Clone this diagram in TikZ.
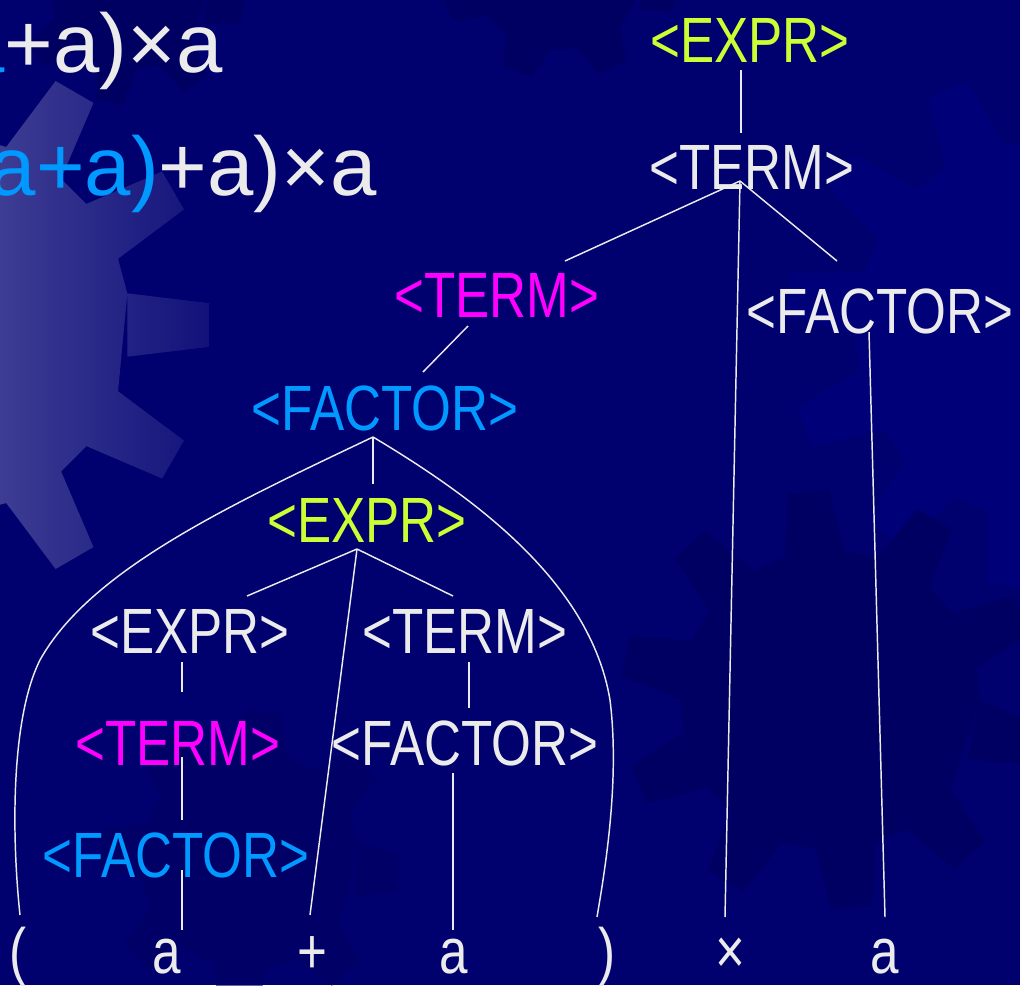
\documentclass[tikz,border=0pt]{standalone}
\usepackage{fontspec}
\setmainfont{Liberation Sans}
\newfontfamily\narrowfont[FakeStretch=0.8]{Liberation Sans}
\definecolor{bgnavy}{HTML}{00006E}
\definecolor{gdark}{HTML}{000063}
\definecolor{glight}{HTML}{000078}
\definecolor{gearL}{HTML}{3E3E94}
\definecolor{gearR}{HTML}{10107A}
\definecolor{tyellow}{HTML}{CCFF33}
\definecolor{tmagenta}{HTML}{FF00FF}
\definecolor{tblue}{HTML}{0099FF}
\definecolor{twhite}{HTML}{EBEBEB}
\newcommand\gearpath[7]{%
  \path[#7,shift={(#1,#2)}] ({#6-0.32*360/#5}:#3)
    \foreach \i [evaluate=\i as \a using #6+\i*360/#5] in {1,...,#5}
      { -- ({\a-0.32*360/#5}:#3) -- ({\a-0.155*360/#5}:#4) -- ({\a+0.155*360/#5}:#4) -- ({\a+0.32*360/#5}:#3) } -- cycle;}
\tikzset{
  sym/.style={anchor=base,inner sep=0pt,font=\narrowfont\fontsize{48}{48}\selectfont},
  leaf/.style={sym,text=twhite},
  conn/.style={draw=twhite,line width=1.1pt},
  bigtext/.style={anchor=base east,inner sep=0pt,text=twhite,font=\fontsize{62.5}{62.5}\selectfont}
}
\begin{document}
\begin{tikzpicture}[x=0.75pt,y=-0.75pt]
\useasboundingbox (0,0) rectangle (1020,985);
\clip (0,0) rectangle (1020,985);
% background
\fill[bgnavy] (0,0) rectangle (1020,985);
\gearpath{130}{-10}{80}{115}{8}{10}{fill=gdark}
\gearpath{560}{-45}{95}{125}{8}{20}{fill=gdark}
\gearpath{1045}{330}{190}{260}{12}{8}{fill=glight}
\gearpath{830}{700}{150}{210}{10}{12}{fill=gdark}
\gearpath{250}{860}{110}{150}{8}{5}{fill=gdark,opacity=0.6}
\begin{scope}
  \gearpath{-60}{325}{190}{270}{12}{0}{clip}
  \shade[left color=gearL,right color=gearR] (-5,60) rectangle (215,620);
\end{scope}
% derivation text
\node[bigtext] (line1) at (223,72) {\textcolor{tblue}{a}+a)×a};
\node[bigtext] (line2) at (377,195) {\textcolor{tblue}{a+a)}+a)×a};
% tree nodes
\node[sym,text=tyellow]  (e0) at (750,62)  {<EXPR>};
\node[sym,text=twhite]   (t0) at (752,189) {<TERM>};
\node[sym,text=tmagenta] (t1) at (497,317) {<TERM>};
\node[sym,text=twhite]   (f1) at (880,333) {<FACTOR>};
\node[sym,text=tblue]    (f2) at (385,430) {<FACTOR>};
\node[sym,text=tyellow]  (e2) at (367,542) {<EXPR>};
\node[sym,text=twhite]   (e3) at (190,653) {<EXPR>};
\node[sym,text=twhite]   (t3) at (465,653) {<TERM>};
\node[sym,text=tmagenta] (t4) at (178,765) {<TERM>};
\node[sym,text=twhite]   (f4) at (465,765) {<FACTOR>};
\node[sym,text=tblue]    (f5) at (176,877) {<FACTOR>};
% leaves
\node[leaf] (lp)  at (18,973)  {(};
\node[leaf] (la1) at (167,973) {a};
\node[leaf] (lpl) at (312,973) {+};
\node[leaf] (la2) at (454,973) {a};
\node[leaf] (rp)  at (607,973) {)};
\node[leaf] (lx)  at (730,973) {×};
\node[leaf] (la3) at (885,973) {a};
% connectors
\draw[conn] ([shift={(-9,8)}]e0.base) -- ([shift={(-11,-56)}]t0.base);
\draw[conn] ([shift={(-12,-8)}]t0.base) -- ([shift={(68,-56)}]t1.base);
\draw[conn] ([shift={(-12,-8)}]t0.base) -- ([shift={(-5,-56)}]lx.base);
\draw[conn] ([shift={(-12,-8)}]t0.base) -- ([shift={(-43,-72)}]f1.base);
\draw[conn] ([shift={(-11,-1)}]f1.base) -- ([shift={(0,-56)}]la3.base);
\draw[conn] ([shift={(-29,9)}]t1.base) -- ([shift={(38,-58)}]f2.base);
\draw[conn] ([shift={(-12,7)}]f2.base) -- ([shift={(6,-58)}]e2.base);
\draw[conn] ([shift={(-12,7)}]f2.base) .. controls (230,505) and (90,570) .. (40,660)
  .. controls (10,720) and (12,840) .. ([shift={(2,-58)}]lp.base);
\draw[conn] ([shift={(-12,7)}]f2.base) .. controls (470,495) and (590,580) .. (610,700)
  .. controls (620,780) and (605,870) .. ([shift={(-10,-56)}]rp.base);
\draw[conn] ([shift={(-10,7)}]e2.base) -- ([shift={(57,-57)}]e3.base);
\draw[conn] ([shift={(-10,7)}]e2.base) -- ([shift={(-2,-58)}]lpl.base);
\draw[conn] ([shift={(-10,7)}]e2.base) -- ([shift={(-12,-57)}]t3.base);
\draw[conn] ([shift={(-8,9)}]e3.base) -- ([shift={(4,-73)}]t4.base);
\draw[conn] ([shift={(4,-8)}]t4.base) -- ([shift={(6,-57)}]f5.base);
\draw[conn] ([shift={(6,-7)}]f5.base) -- ([shift={(15,-43)}]la1.base);
\draw[conn] ([shift={(4,9)}]t3.base) -- ([shift={(4,-57)}]f4.base);
\draw[conn] ([shift={(-12,8)}]f4.base) -- ([shift={(-1,-43)}]la2.base);
\end{tikzpicture}
\end{document}
